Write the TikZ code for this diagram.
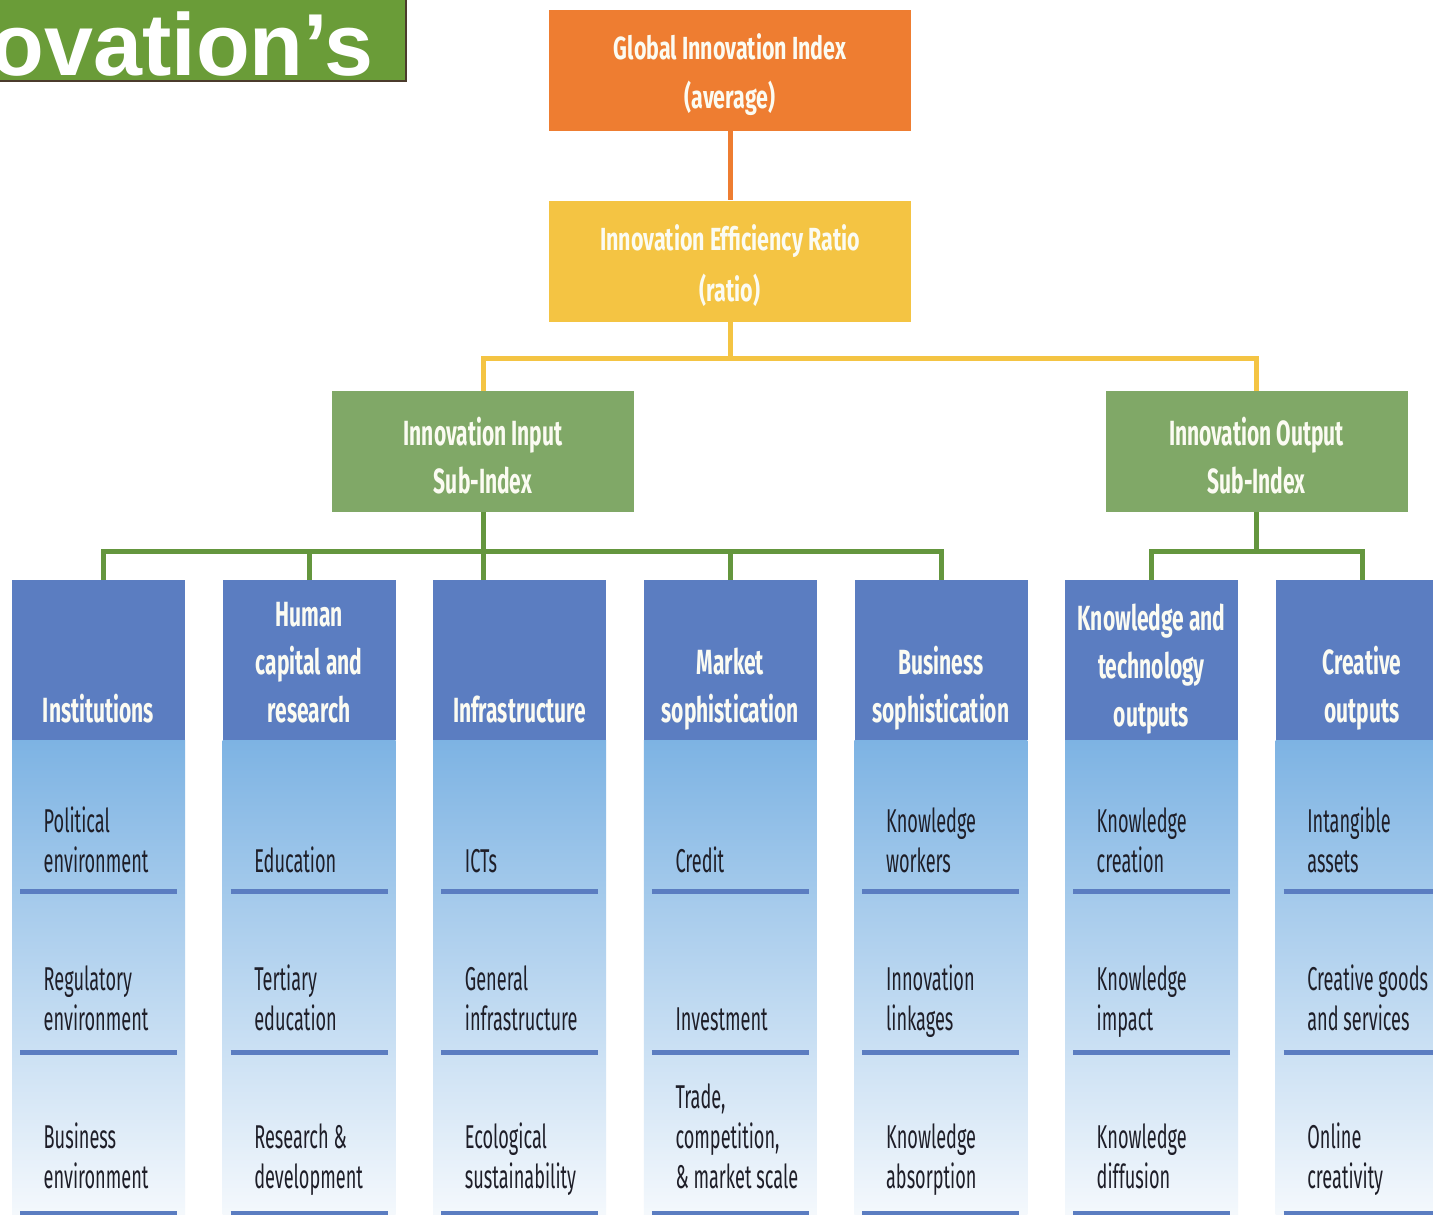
\documentclass[tikz,border=0pt]{standalone}
\usepackage{fontspec}
\usetikzlibrary{calc}
\newfontfamily\hfont[FakeStretch=0.60]{Fira Sans}
\newfontfamily\gfont[FakeStretch=0.67]{Fira Sans}
\newfontfamily\bfont[FakeStretch=0.55]{Fira Sans}
\newfontfamily\tfont{Liberation Sans}
\definecolor{orangeC}{HTML}{EE7D31}
\definecolor{yellowC}{HTML}{F4C443}
\definecolor{greenBox}{HTML}{80A867}
\definecolor{greenLine}{HTML}{64963E}
\definecolor{hblue}{HTML}{5B7DC1}
\definecolor{ltop}{HTML}{7DB3E3}
\definecolor{lbot}{HTML}{F7FAFD}
\definecolor{titleG}{HTML}{6A9C38}
\definecolor{titleB}{HTML}{4B3B2C}
\definecolor{txt}{HTML}{1E1E28}
\definecolor{wtxt}{HTML}{FBFBF2}
\newcommand\cstk[1]{\vbox{\halign{\hfil##\hfil\cr#1\crcr}}}
\newcommand\lstk[1]{\vbox{\halign{##\hfil\cr#1\crcr}}}
\tikzset{
  hdr/.style={rectangle, fill=hblue, minimum width=173pt, minimum height=160pt, anchor=north west, inner sep=0pt},
  htext/.style={font=\hfont\bfseries\fontsize{35}{48}\selectfont, text=wtxt, inner sep=0pt, anchor=base},
  itext/.style={font=\bfont\fontsize{33}{40}\selectfont, text=txt, inner sep=0pt, anchor=base west},
  topbox/.style={rectangle, minimum width=362pt, minimum height=121pt, inner sep=0pt},
  toptext/.style={inner sep=0pt, text=wtxt, align=center, font=\gfont\bfseries\fontsize{32}{49}\selectfont},
  subbox/.style={rectangle, fill=greenBox, minimum width=302pt, minimum height=121pt, inner sep=0pt},
  subtext/.style={inner sep=0pt, text=wtxt, align=center, font=\hfont\bfseries\fontsize{35}{48}\selectfont},
  bar/.style={line width=5pt, draw=hblue},
  oline/.style={line width=5pt, draw=orangeC},
  yline/.style={line width=5pt, draw=yellowC},
  gline/.style={line width=5pt, draw=greenLine},
}
\newcommand\mkcol[7]{%
  \node[hdr] (h#1) at (#2,580) {};
  \shade[top color=ltop, bottom color=lbot] (#2,740) rectangle ++(173,485);
  \draw[bar] (#2+8,891) -- ++(157,0);
  \draw[bar] (#2+8,1052) -- ++(157,0);
  \draw[bar] (#2+8,1213) -- ++(157,0);
  \node[htext] (ht#1) at (#2+86.5,#4) {\cstk{#3}};
  \node[itext] (a#1) at (#2+31.5,872) {\lstk{#5}};
  \node[itext] (b#1) at (#2+31.5,1030) {\lstk{#6}};
  \node[itext] (c#1) at (#2+31.5,1188) {\lstk{#7}};
}
\begin{document}
\begin{tikzpicture}[x=1pt,y=-1pt]
\clip (0,0) rectangle (1433,1215);
\fill[white] (0,0) rectangle (1433,1215);
% title fragment
\node[rectangle, fill=titleG, draw=titleB, line width=2pt, minimum width=420pt, minimum height=95pt, anchor=south east, inner sep=0pt] (title) at (407,82) {};
\node[anchor=base east, inner sep=0pt, text=white, font=\tfont\bfseries\fontsize{88}{88}\selectfont] (ttext) at (374,75) {ovation’s};
% top boxes
\node[topbox, fill=orangeC] (gii) at (730,70.5) {};
\node[toptext] (giit) at (730,74.5) {Global Innovation Index\\(average)};
\node[topbox, fill=yellowC] (eff) at (730,261) {};
\node[toptext, font=\gfont\bfseries\fontsize{32}{51}\selectfont] (efft) at (730,265.5) {Innovation Efficiency Ratio\\(ratio)};
\node[subbox] (in) at (483,451.5) {};
\node[subtext] (int) at (483,455.5) {Innovation Input\\Sub-Index};
\node[subbox] (out) at (1256.5,451.5) {};
\node[subtext] (outt) at (1256.5,455.5) {Innovation Output\\Sub-Index};
\coordinate (yj) at (730,358);
\coordinate (gj) at (730,551);
% columns
\mkcol{1}{12}{Institutions}{722}{Political\cr environment}{Regulatory\cr environment}{Business\cr environment}
\mkcol{2}{222.6}{Human\cr capital and\cr research}{722}{Education}{Tertiary\cr education}{Research \&\cr development}
\mkcol{3}{433.2}{Infrastructure}{722}{ICTs}{General\cr infrastructure}{Ecological\cr sustainability}
\mkcol{4}{643.8}{Market\cr sophistication}{722}{Credit}{Investment}{Trade,\cr competition,\cr \& market scale}
\mkcol{5}{854.4}{Business\cr sophistication}{722}{Knowledge\cr workers}{Innovation\cr linkages}{Knowledge\cr absorption}
\mkcol{6}{1065}{Knowledge and\cr technology\cr outputs}{726}{Knowledge\cr creation}{Knowledge\cr impact}{Knowledge\cr diffusion}
\mkcol{7}{1275.6}{Creative\cr outputs}{722}{Intangible\cr assets}{Creative goods\cr and services}{Online\cr creativity}
\coordinate (c1top) at ($(h1.north)+(5,0)$);
% connectors
\draw[oline] (gii.south) -- (eff.north);
\draw[yline] (eff.south) -- (yj);
\draw[yline] (in.north) -- (in.north |- yj) -- (out.north |- yj) -- (out.north);
\draw[gline] (in.south) -- (in.south |- gj);
\draw[gline] (c1top) -- (c1top |- gj) -- (h5.north |- gj) -- (h5.north);
\draw[gline] (h2.north) -- (h2.north |- gj);
\draw[gline] (in.south |- h3.north) -- (in.south |- gj);
\draw[gline] (h4.north) -- (h4.north |- gj);
\draw[gline] (out.south) -- (out.south |- gj);
\draw[gline] (h6.north) -- (h6.north |- gj) -- (h7.north |- gj) -- (h7.north);
\end{tikzpicture}
\end{document}
